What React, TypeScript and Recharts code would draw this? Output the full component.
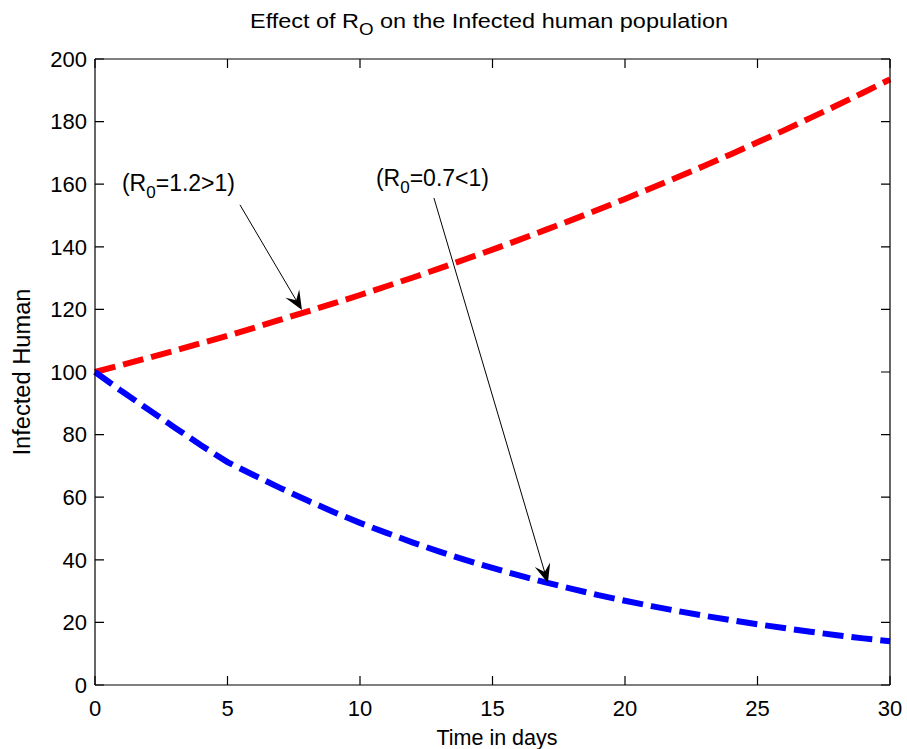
import { LineChart, Line, XAxis, YAxis, ReferenceLine } from 'recharts';

const days = [0, 1, 2, 3, 4, 5, 6, 7, 8, 9, 10, 11, 12, 13, 14, 15, 16, 17, 18, 19, 20, 21, 22, 23, 24, 25, 26, 27, 28, 29, 30];
const highR0 = [100, 102.2, 104.5, 106.8, 109.2, 111.6, 114.1, 116.7, 119.3, 121.9, 124.6, 127.4, 130.2, 133.1, 136.1, 139.1, 142.2, 145.4, 148.6, 151.9, 155.3, 158.8, 162.3, 165.9, 169.6, 173.4, 177.2, 181.2, 185.2, 189.3, 193.5];
const lowR0 = [100, 93.9, 88.1, 82.3, 76.6, 71.2, 67.0, 62.9, 59.0, 55.3, 51.8, 48.6, 45.5, 42.6, 39.9, 37.4, 35.0, 32.8, 30.7, 28.7, 26.9, 25.2, 23.6, 22.1, 20.7, 19.4, 18.2, 17.0, 15.9, 14.9, 14.0];
const xTicks = [0, 5, 10, 15, 20, 25, 30];
const yTicks = [0, 20, 40, 60, 80, 100, 120, 140, 160, 180, 200];

const FONT = 'Liberation Sans, Arial, Helvetica, sans-serif';
const TICK_LEN = 9;
const TICK = { fontSize: 22, fontFamily: FONT, fill: '#000' };

const data = days.map((t, i) => ({ t, high: highR0[i], low: lowR0[i] }));

// inward tick marks on both ends of each grid position (MATLAB box style)
const hTicks = (p: any) => {
  const left = Math.min(p.x1, p.x2);
  const right = Math.max(p.x1, p.x2);
  return (
    <path
      d={`M${left},${p.y1}h${TICK_LEN}M${right},${p.y1}h${-TICK_LEN}`}
      stroke="#000"
      strokeWidth={1.2}
      fill="none"
    />
  );
};
const vTicks = (p: any) => {
  const top = Math.min(p.y1, p.y2);
  const bot = Math.max(p.y1, p.y2);
  return (
    <path
      d={`M${p.x1},${bot}v${-TICK_LEN}M${p.x1},${top}v${TICK_LEN}`}
      stroke="#000"
      strokeWidth={1.2}
      fill="none"
    />
  );
};

function arrowShape(label: string, sub: string, rest: string, dx: number, dy: number) {
  return (p: any) => {
    const { x1, y1, x2, y2 } = p;
    const len = Math.hypot(x2 - x1, y2 - y1) || 1;
    const ux = (x2 - x1) / len;
    const uy = (y2 - y1) / len;
    const px = -uy;
    const py = ux;
    const L = 19;
    const W = 8;
    const bx = x2 - L * ux;
    const by = y2 - L * uy;
    const nx = x2 - L * 0.6 * ux;
    const ny = y2 - L * 0.6 * uy;
    const pts = [
      [x2, y2],
      [bx + W * px, by + W * py],
      [nx, ny],
      [bx - W * px, by - W * py],
    ]
      .map((q) => q.join(','))
      .join(' ');
    return (
      <g>
        <line x1={x1} y1={y1} x2={nx} y2={ny} stroke="#000" strokeWidth={1} />
        <polygon points={pts} fill="#000" />
        <text x={x1 + dx} y={y1 + dy} fontSize={23} fontFamily={FONT} fill="#000">
          {label}
          <tspan fontSize={17} dy={7}>{sub}</tspan>
          <tspan dy={-7}>{rest}</tspan>
        </text>
      </g>
    );
  };
}

export default function App() {
  return (
    <div style={{ position: 'absolute', left: 0, top: 0, width: 907, height: 749, background: '#fff' }}>
      <LineChart
        width={907}
        height={749}
        data={data}
        margin={{ top: 58, right: 16, left: 0, bottom: 34 }}
      >
        <XAxis
          xAxisId="b"
          dataKey="t"
          type="number"
          domain={[0, 30]}
          ticks={xTicks}
          interval={0}
          height={30}
          tickLine={false}
          tickSize={0}
          tickMargin={15}
          tick={TICK}
          axisLine={{ stroke: '#000', strokeWidth: 1.2 }}
        />
        <XAxis
          xAxisId="t"
          orientation="top"
          dataKey="t"
          type="number"
          domain={[0, 30]}
          height={1}
          tick={false}
          tickLine={false}
          axisLine={{ stroke: '#000', strokeWidth: 1.2 }}
        />
        <YAxis
          yAxisId="l"
          type="number"
          domain={[0, 200]}
          ticks={yTicks}
          interval={0}
          width={95}
          tickLine={false}
          tickSize={0}
          tickMargin={8}
          tick={TICK}
          axisLine={{ stroke: '#000', strokeWidth: 1.2 }}
        />
        <YAxis
          yAxisId="r"
          orientation="right"
          type="number"
          domain={[0, 200]}
          width={1}
          tick={false}
          tickLine={false}
          axisLine={{ stroke: '#000', strokeWidth: 1.2 }}
        />
        {yTicks.map((v) => (
          <ReferenceLine key={`y${v}`} xAxisId="b" yAxisId="l" y={v} shape={hTicks} />
        ))}
        {xTicks.map((v) => (
          <ReferenceLine key={`x${v}`} xAxisId="b" yAxisId="l" x={v} shape={vTicks} />
        ))}
        <Line
          xAxisId="b"
          yAxisId="l"
          dataKey="high"
          type="linear"
          stroke="#ff0000"
          strokeWidth={6}
          strokeDasharray="21 8"
          dot={false}
          isAnimationActive={false}
        />
        <Line
          xAxisId="b"
          yAxisId="l"
          dataKey="low"
          type="linear"
          stroke="#0000ff"
          strokeWidth={6}
          strokeDasharray="21 8"
          dot={false}
          isAnimationActive={false}
        />
        <ReferenceLine
          xAxisId="b"
          yAxisId="l"
          segment={[{ x: 5.47, y: 153.4 }, { x: 7.81, y: 119.8 }]}
          shape={arrowShape('(R', '0', '=1.2>1)', -118, -14)}
        />
        <ReferenceLine
          xAxisId="b"
          yAxisId="l"
          segment={[{ x: 12.79, y: 155.6 }, { x: 17.09, y: 32.6 }]}
          shape={arrowShape('(R', '0', '=0.7<1)', -58, -12)}
        />
      </LineChart>
      <svg
        width={907}
        height={749}
        style={{ position: 'absolute', left: 0, top: 0, pointerEvents: 'none' }}
      >
        <text
          x={250}
          y={28}
          fontSize={20}
          fontFamily={FONT}
          fill="#000"
          textLength={478}
          lengthAdjust="spacingAndGlyphs"
        >
          Effect of R
          <tspan fontSize={16} dy={7}>O</tspan>
          <tspan dy={-7}> on the Infected human population</tspan>
        </text>
        <text x={497} y={745} fontSize={21.5} fontFamily={FONT} fill="#000" textAnchor="middle">
          Time in days
        </text>
        <text
          x={30}
          y={372}
          fontSize={23}
          fontFamily={FONT}
          fill="#000"
          textAnchor="middle"
          textLength={167}
          lengthAdjust="spacingAndGlyphs"
          transform="rotate(-90, 30, 372)"
        >
          Infected Human
        </text>
      </svg>
    </div>
  );
}
